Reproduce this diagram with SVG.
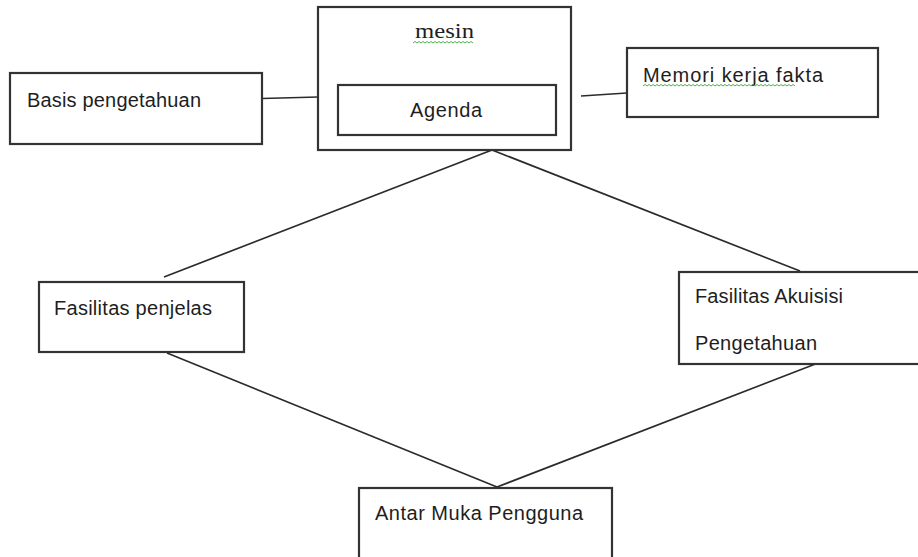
<svg xmlns="http://www.w3.org/2000/svg" width="918" height="557" viewBox="0 0 918 557">
<style>
.box{fill:#fff;stroke:#333;stroke-width:2.2}
.ln{stroke:#2b2b2b;stroke-width:1.7;fill:none}
.t{font-family:"Liberation Sans",Arial,sans-serif;font-size:20px;fill:#1e1e1e}
.s{font-family:"Liberation Serif","Times New Roman",serif;font-size:22px;fill:#1e1e1e}
.sq{fill:none;stroke:#4caf50;stroke-width:1}
</style>
<rect width="918" height="557" fill="#fff"/>
<g id="connectors">
<line class="ln" x1="262" y1="98.5" x2="318" y2="97"/>
<line class="ln" x1="581" y1="96" x2="627" y2="93"/>
<line class="ln" x1="492" y1="150" x2="164" y2="277"/>
<line class="ln" x1="492" y1="150" x2="800" y2="271"/>
<line class="ln" x1="167" y1="353" x2="497" y2="487"/>
<line class="ln" x1="818" y1="363" x2="497" y2="487"/>
</g>
<g id="basis">
<rect class="box" x="10" y="73" width="252" height="71"/>
<text class="t" x="27" y="107" textLength="174" lengthAdjust="spacing">Basis pengetahuan</text>
</g>
<g id="mesin">
<rect class="box" x="318" y="7" width="253" height="143"/>
<text class="s" x="415" y="38" textLength="59" lengthAdjust="spacingAndGlyphs">mesin</text>
<path class="sq" d="M413 43 l2 -1.5 l2 1.5 l2 -1.5 l2 1.5 l2 -1.5 l2 1.5 l2 -1.5 l2 1.5 l2 -1.5 l2 1.5 l2 -1.5 l2 1.5 l2 -1.5 l2 1.5 l2 -1.5 l2 1.5 l2 -1.5 l2 1.5 l2 -1.5 l2 1.5 l2 -1.5 l2 1.5 l2 -1.5 l2 1.5 l2 -1.5 l2 1.5 l2 -1.5 l2 1.5 l2 -1.5 l2 1.5"/>
</g>
<g id="agenda">
<rect class="box" x="338" y="85" width="218" height="50"/>
<text class="t" x="410" y="117" textLength="72" lengthAdjust="spacing">Agenda</text>
</g>
<g id="memori">
<rect class="box" x="627" y="48" width="251" height="69"/>
<text class="t" x="643" y="82" textLength="180" lengthAdjust="spacing">Memori kerja fakta</text>
<path class="sq" d="M643 86 l2 -1.5 l2 1.5 l2 -1.5 l2 1.5 l2 -1.5 l2 1.5 l2 -1.5 l2 1.5 l2 -1.5 l2 1.5 l2 -1.5 l2 1.5 l2 -1.5 l2 1.5 l2 -1.5 l2 1.5 l2 -1.5 l2 1.5 l2 -1.5 l2 1.5 l2 -1.5 l2 1.5 l2 -1.5 l2 1.5 l2 -1.5 l2 1.5 l2 -1.5 l2 1.5 l2 -1.5 l2 1.5 l2 -1.5 l2 1.5 l2 -1.5 l2 1.5 l2 -1.5 l2 1.5 l2 -1.5 l2 1.5 l2 -1.5 l2 1.5 l2 -1.5 l2 1.5 l2 -1.5 l2 1.5 l2 -1.5 l2 1.5 l2 -1.5 l2 1.5 l2 -1.5 l2 1.5 l2 -1.5 l2 1.5 l2 -1.5 l2 1.5 l2 -1.5 l2 1.5 l2 -1.5 l2 1.5 l2 -1.5 l2 1.5 l2 -1.5 l2 1.5 l2 -1.5 l2 1.5 l2 -1.5 l2 1.5 l2 -1.5 l2 1.5 l2 -1.5 l2 1.5 l2 -1.5 l2 1.5 l2 -1.5 l2 1.5 l2 -1.5 l2 1.5"/>
</g>
<g id="penjelas">
<rect class="box" x="39" y="282" width="205" height="70"/>
<text class="t" x="54" y="315" textLength="158" lengthAdjust="spacing">Fasilitas penjelas</text>
</g>
<g id="akuisisi">
<rect class="box" x="679" y="272" width="260" height="92"/>
<text class="t" x="695" y="303" textLength="148" lengthAdjust="spacing">Fasilitas Akuisisi</text>
<text class="t" x="695" y="350" textLength="122" lengthAdjust="spacing">Pengetahuan</text>
</g>
<g id="antarmuka">
<rect class="box" x="359" y="488" width="253" height="82"/>
<text class="t" x="375" y="520" textLength="208" lengthAdjust="spacing">Antar Muka Pengguna</text>
</g>
</svg>
